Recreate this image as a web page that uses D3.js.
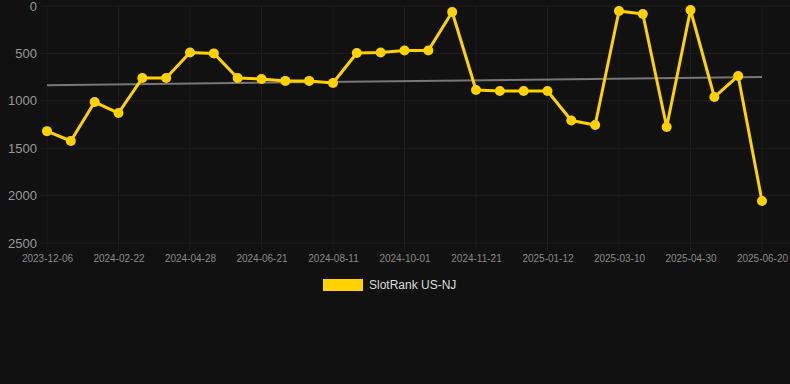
<!DOCTYPE html>
<html>
<head>
<meta charset="utf-8">
<script src="https://cdn.jsdelivr.net/npm/d3@7"></script>
<style>
  html, body { margin: 0; padding: 0; background: #111111; }
  svg { display: block; }
  text { font-family: "Liberation Sans", Arial, sans-serif; }
</style>
</head>
<body>
<svg id="chart" width="790" height="384"></svg>
<script>
const categories = [
  "2023-12-06","2024-01-01","2024-01-27","2024-02-22","2024-03-15","2024-04-06",
  "2024-04-28","2024-05-16","2024-06-03","2024-06-21","2024-07-08","2024-07-25",
  "2024-08-11","2024-08-28","2024-09-14","2024-10-01","2024-10-18","2024-11-04",
  "2024-11-21","2024-12-08","2024-12-25","2025-01-12","2025-01-31","2025-02-19",
  "2025-03-10","2025-03-27","2025-04-13","2025-04-30","2025-05-17","2025-06-03",
  "2025-06-20"
];
const rankValues = [
  1320, 1424, 1013, 1129, 760, 760,
  490, 500, 760, 770, 790, 790,
  812, 496, 490, 470, 470, 63,
  886, 897, 897, 897, 1208, 1255,
  53, 84, 1276, 42, 960, 738,
  2057
];
const tickLabels = ["2023-12-06","2024-02-22","2024-04-28","2024-06-21","2024-08-11","2024-10-01","2024-11-21","2025-01-12","2025-03-10","2025-04-30","2025-06-20"];
const yTicks = [0, 500, 1000, 1500, 2000, 2500];
const seriesName = "SlotRank US-NJ";

const svg = d3.select("#chart");
svg.append("rect").attr("width", 790).attr("height", 384).attr("fill", "#111111");

const x = d3.scalePoint().domain(categories).range([47, 762]);
const y = d3.scaleLinear().domain([0, 2500]).range([6, 243]);

// grid
const grid = svg.append("g");
grid.selectAll("line.h").data(yTicks).join("line")
  .attr("x1", 40).attr("x2", 790)
  .attr("y1", d => y(d)).attr("y2", d => y(d))
  .attr("stroke", "#1f1f1f").attr("stroke-width", 1);
grid.selectAll("line.v").data(tickLabels).join("line")
  .attr("x1", d => x(d)).attr("x2", d => x(d))
  .attr("y1", 6).attr("y2", 251)
  .attr("stroke", "#1d1d1d").attr("stroke-width", 1);

// y axis
const yAxis = svg.append("g").attr("transform", "translate(37,0)")
  .call(d3.axisLeft(y).tickValues(yTicks).tickSize(0).tickPadding(0).tickFormat(d3.format("d")));
yAxis.select(".domain").remove();
yAxis.selectAll("text").attr("fill", "#999999").attr("font-size", "13px");

// x axis
const xAxis = svg.append("g").attr("transform", "translate(0,252)")
  .call(d3.axisBottom(x).tickValues(tickLabels).tickSize(0).tickPadding(3));
xAxis.select(".domain").remove();
xAxis.selectAll("text").attr("fill", "#888888").attr("font-size", "10px");

// trend line (least squares)
const n = rankValues.length;
const idx = d3.range(n);
const mx = d3.mean(idx), my = d3.mean(rankValues);
const slope = d3.sum(idx, i => (i - mx) * (rankValues[i] - my)) / d3.sum(idx, i => (i - mx) ** 2);
const icpt = my - slope * mx;
svg.append("line")
  .attr("x1", x(categories[0])).attr("y1", y(icpt))
  .attr("x2", x(categories[n - 1])).attr("y2", y(icpt + slope * (n - 1)))
  .attr("stroke", "#777777").attr("stroke-width", 2);

// series line
const line = d3.line().x((d, i) => x(categories[i])).y(d => y(d));
svg.append("path").datum(rankValues)
  .attr("d", line).attr("fill", "none")
  .attr("stroke", "#FFD200").attr("stroke-width", 3).attr("stroke-linejoin", "round");
svg.selectAll("circle.pt").data(rankValues).join("circle")
  .attr("cx", (d, i) => x(categories[i])).attr("cy", d => y(d))
  .attr("r", 5).attr("fill", "#FFD200");

// legend
const lg = svg.append("g");
lg.append("rect").attr("x", 323).attr("y", 279).attr("width", 40).attr("height", 12).attr("fill", "#FFD200");
lg.append("text").attr("x", 369).attr("y", 289).attr("fill", "#dddddd").attr("font-size", "12px").text(seriesName);
</script>
</body>
</html>
